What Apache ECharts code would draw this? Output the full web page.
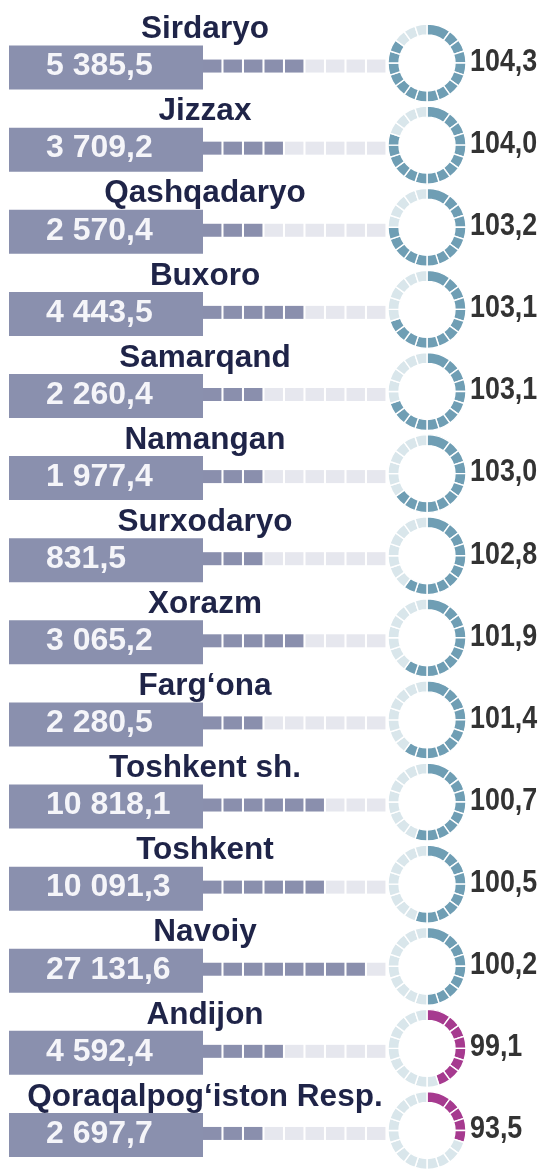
<!DOCTYPE html>
<html>
<head>
<meta charset="utf-8">
<script src="https://cdn.jsdelivr.net/npm/echarts@6/dist/echarts.min.js"></script>
<style>
  html, body { margin: 0; padding: 0; background: #fff; }
  #chart { width: 542px; height: 1176px; }
</style>
</head>
<body>
<div id="chart"></div>
<script>
// regions, top to bottom
const regions = [
  "Sirdaryo", "Jizzax", "Qashqadaryo", "Buxoro", "Samarqand", "Namangan",
  "Surxodaryo", "Xorazm", "Farg‘ona", "Toshkent sh.", "Toshkent", "Navoiy",
  "Andijon", "Qoraqalpog‘iston Resp."
];
// volume, bln sum
const volume = [
  5385.5, 3709.2, 2570.4, 4443.5, 2260.4, 1977.4, 831.5,
  3065.2, 2280.5, 10818.1, 10091.3, 27131.6, 4592.4, 2697.7
];
// growth index, %
const growth = [
  104.3, 104.0, 103.2, 103.1, 103.1, 103.0, 102.8,
  101.9, 101.4, 100.7, 100.5, 100.2, 99.1, 93.5
];
// filled squares in the dotted track (out of 9)
const dotFill = [5, 4, 3, 5, 3, 3, 3, 5, 3, 6, 6, 8, 4, 3];
// filled pieces of the ring (out of 20)
const ringFill = [17, 16, 15, 14, 14, 13, 12, 12, 12, 11, 11, 10, 9, 6];

const DOTS = 9;
const RING_SEGS = 20;

const FONT = '"Liberation Sans", Arial, sans-serif';

const fmtVolume = (v) => {
  const [a, b] = v.toFixed(1).split(".");
  return a.replace(/\B(?=(\d{3})+(?!\d))/g, " ") + "," + b;
};
const fmtGrowth = (v) => v.toFixed(1).replace(".", ",");

var chartDom = document.getElementById("chart");
var myChart = echarts.init(chartDom);
var option;

// box with the volume + region name above it
const renderBox = (params, api) => {
  const i = api.value(1);
  const p = api.coord([0, i]);
  return {
    type: "group",
    children: [
      {
        type: "rect",
        shape: { x: p[0] - 194, y: p[1] - 22, width: 194, height: 44 },
        style: { fill: "#8a90ae" },
      },
      {
        type: "text",
        style: {
          x: p[0] - 157,
          y: p[1] - 1,
          text: fmtVolume(volume[i]),
          fill: "#f5f5f9",
          font: "bold 32px " + FONT,
          align: "left",
          verticalAlign: "middle",
        },
      },
      {
        type: "text",
        style: {
          x: p[0] + 2,
          y: p[1] - 38,
          text: regions[i],
          fill: "#1f2448",
          font: "bold 31.5px " + FONT,
          align: "center",
          verticalAlign: "middle",
        },
      },
    ],
  };
};

// dotted track
const renderDots = (params, api) => {
  const n = api.value(0);
  const i = api.value(1);
  const children = [];
  for (let k = 0; k < DOTS; k++) {
    const a = api.coord([k, i]);
    const b = api.coord([k + 0.9, i]);
    children.push({
      type: "rect",
      shape: { x: a[0], y: a[1] - 8, width: b[0] - a[0], height: 13 },
      style: { fill: k < n ? "#8a8fad" : "#e6e7ee" },
    });
  }
  return { type: "group", children };
};

// segmented ring + growth label
const renderRing = (params, api) => {
  const n = api.value(0);
  const i = api.value(1);
  const end = api.coord([DOTS, i]);
  const cx = end[0] + 39.5;
  const cy = end[1] - 4.5;
  const on = growth[i] >= 100 ? "#6f9eb4" : "#a63a8f";
  const off = "#d9e6eb";
  const step = (Math.PI * 2) / RING_SEGS;
  const children = [];
  // first piece at the top spans two steps
  const cuts = [0];
  for (let k = 2; k <= RING_SEGS; k++) cuts.push(k);
  for (let j = 0; j < cuts.length - 1; j++) {
    const s = cuts[j], e = cuts[j + 1];
    children.push({
      type: "sector",
      shape: {
        cx, cy, r0: 28, r: 39,
        startAngle: -Math.PI / 2 + s * step,
        endAngle: -Math.PI / 2 + e * step,
        clockwise: true,
      },
      style: { fill: s < n ? on : off, stroke: "#fff", lineWidth: 1.4 },
    });
  }
  // narrow-looking label: squeeze the bold font sideways
  children.push({
    type: "text",
    x: cx + 43,
    y: cy - 1,
    scaleX: 0.84,
    style: {
      x: 0,
      y: 0,
      text: fmtGrowth(growth[i]),
      fill: "#333333",
      font: "bold 32px " + FONT,
      align: "left",
      verticalAlign: "middle",
    },
  });
  return { type: "group", children };
};

option = {
  animation: false,
  grid: {
    left: 203,
    width: 184.5,
    top: 26.5,
    height: 1162,
  },
  xAxis: {
    type: "value",
    min: 0,
    max: DOTS,
    show: false,
  },
  yAxis: {
    type: "category",
    data: regions,
    inverse: true,
    show: false,
  },
  series: [
    {
      name: "box",
      type: "custom",
      renderItem: renderBox,
      data: regions.map((r, i) => [0, i]),
    },
    {
      name: "dots",
      type: "custom",
      renderItem: renderDots,
      data: dotFill.map((v, i) => [v, i]),
    },
    {
      name: "ring",
      type: "custom",
      renderItem: renderRing,
      data: ringFill.map((v, i) => [v, i]),
    },
  ],
};

option && myChart.setOption(option);
</script>
</body>
</html>
